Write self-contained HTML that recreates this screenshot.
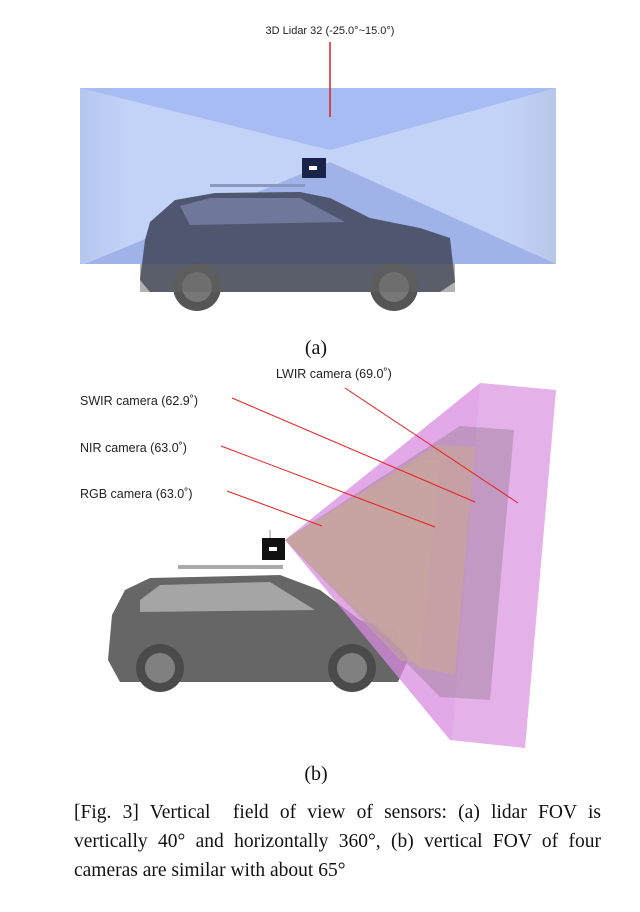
<!DOCTYPE html>
<html><head><meta charset="utf-8"><style>
body{margin:0;background:#fff;width:640px;height:912px;overflow:hidden}
svg{position:absolute;left:0;top:0}
.cap{position:absolute;left:74px;top:798px;width:527px;font-family:"Liberation Serif",serif;font-size:19.5px;line-height:29px;text-align:justify;color:#111}
</style></head><body>
<svg width="640" height="912" viewBox="0 0 640 912" font-family="'Liberation Sans',sans-serif">
<defs>
<linearGradient id="lg" x1="0" x2="1"><stop offset="0" stop-color="#b5c6ef"/><stop offset="0.1" stop-color="#c3d2f7"/><stop offset="0.9" stop-color="#c3d2f7"/><stop offset="1" stop-color="#b8c6e8"/></linearGradient>
</defs>
<rect x="80" y="88" width="476" height="176" fill="url(#lg)"/>
<polygon points="80,88 556,88 330,150" fill="#a6bcf2"/>
<polygon points="330,162 85,264 556,264" fill="#9fb3e8"/>
<text x="330" y="34" font-size="11" text-anchor="middle" fill="#222">3D Lidar 32 (-25.0°~15.0°)</text>
<line x1="330" y1="42" x2="330" y2="117" stroke="#e02020" stroke-width="1.5"/>
<path d="M145,240 L150,222 L175,200 L215,193 L300,192 L330,198 L370,218 L420,228 L450,238 L455,282 L440,292 L150,292 L140,280 Z" fill="#4f5670"/>
<path d="M180,206 L210,198 L300,198 L345,222 L190,225 Z" fill="#6f779a"/>
<rect x="210" y="184" width="95" height="3" fill="#8a98c0"/>
<rect x="302" y="158" width="24" height="20" fill="#1a2448"/>
<rect x="309" y="166" width="8" height="4" fill="#fff"/>
<circle cx="197" cy="287" r="24" fill="#555"/><circle cx="197" cy="287" r="15" fill="#777"/>
<circle cx="394" cy="287" r="24" fill="#555"/><circle cx="394" cy="287" r="15" fill="#777"/>
<rect x="140" y="264" width="315" height="28" fill="#666" opacity="0.5"/>
<text x="316" y="354" font-family="'Liberation Serif',serif" font-size="20" text-anchor="middle" fill="#111">(a)</text>
<path d="M112,615 L125,590 L150,578 L280,575 L320,590 L360,620 L395,630 L408,660 L398,682 L120,682 L108,660 Z" fill="#666"/>
<path d="M140,600 L160,585 L270,582 L315,610 L140,612 Z" fill="#a5a5a5"/>
<rect x="178" y="565" width="105" height="4" fill="#aaa"/>
<circle cx="160" cy="668" r="24" fill="#4a4a4a"/><circle cx="160" cy="668" r="15" fill="#808080"/>
<circle cx="352" cy="668" r="24" fill="#4a4a4a"/><circle cx="352" cy="668" r="15" fill="#808080"/>
<polygon points="285,540 480,383 556,390 525,748 450,740" fill="#d98be0" opacity="0.75"/>
<polygon points="480,383 556,390 525,748 452,740" fill="#e6b8ea" opacity="0.6"/>
<polygon points="285,540 460,426 514,430 490,700 440,697" fill="#a889a8" opacity="0.6"/>
<polygon points="285,540 437,445 475,447 455,675 420,668" fill="#c9a49c" opacity="0.75"/>
<polygon points="285,540 420,460 440,460 420,665 400,660" fill="#c8a89e" opacity="0.5"/>
<rect x="262" y="538" width="23" height="22" fill="#111"/>
<rect x="269" y="547" width="8" height="4" fill="#fff"/>
<line x1="270" y1="530" x2="270" y2="538" stroke="#999"/>
<g font-size="12.5" fill="#222">
<text x="276" y="378">LWIR camera (69.0˚)</text>
<text x="80" y="405">SWIR camera (62.9˚)</text>
<text x="80" y="452">NIR camera (63.0˚)</text>
<text x="80" y="498">RGB camera (63.0˚)</text>
</g>
<g stroke="#e82020" stroke-width="1">
<line x1="345" y1="388" x2="518" y2="503"/>
<line x1="232" y1="398" x2="475" y2="502"/>
<line x1="221" y1="446" x2="435" y2="527"/>
<line x1="227" y1="491" x2="322" y2="526"/>
</g>
<text x="316" y="780" font-family="'Liberation Serif',serif" font-size="20" text-anchor="middle" fill="#111">(b)</text>
</svg>
<div class="cap">[Fig. 3] Vertical&nbsp; field of view of sensors: (a) lidar FOV is vertically 40° and horizontally 360°, (b) vertical FOV of four cameras are similar with about 65°</div>
</body></html>
